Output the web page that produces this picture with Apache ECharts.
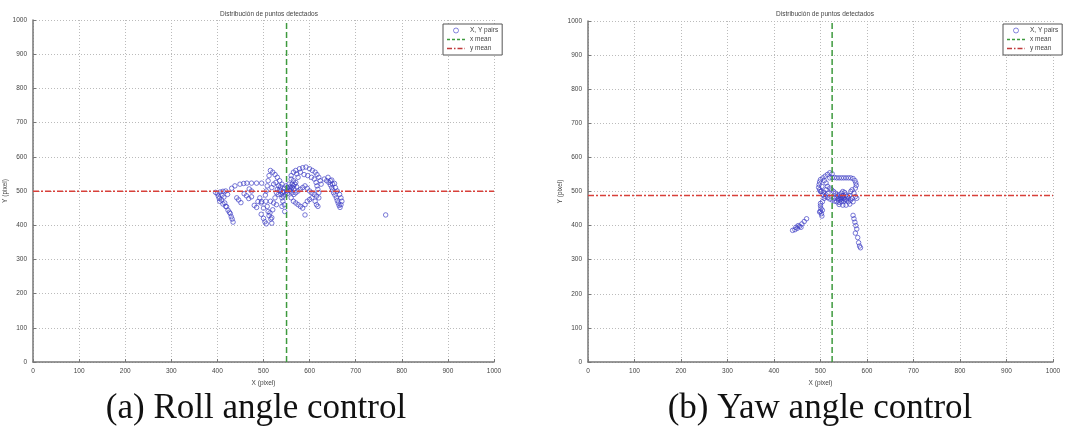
<!DOCTYPE html>
<html>
<head>
<meta charset="utf-8">
<script src="https://cdn.jsdelivr.net/npm/echarts@6/dist/echarts.min.js"></script>
<style>
  html, body { margin: 0; padding: 0; background: #fff; }
  #main { width: 1068px; height: 434px; }
</style>
</head>
<body>
<div id="main"></div>
<script>
// (a) roll angle control - detected points
const rollPoints = [
    [396, 496], [400, 492], [402, 485], [404, 478], [405, 470], [409, 474], [412, 462], [416, 465],
    [418, 455], [420, 454], [423, 444], [426, 438], [428, 434], [430, 425], [432, 418], [434, 409],
    [406, 497], [412, 499], [418, 500], [410, 488], [414, 482], [422, 490],
    [431, 508], [438, 515], [449, 520], [457, 522], [464, 523], [474, 523], [485, 523], [496, 523],
    [469, 506], [474, 500], [474, 483], [488, 469], [496, 469], [442, 480], [446, 474], [451, 466],
    [458, 492], [463, 486], [468, 478], [480, 458], [485, 452], [492, 480], [495, 465],
    [500, 450], [495, 432], [500, 420], [503, 410], [506, 404], [514, 436], [516, 418], [518, 406],
    [505, 470], [508, 455], [510, 440], [512, 428], [518, 422], [520, 445], [522, 465], [525, 480],
    [528, 495], [530, 505], [533, 515], [536, 500], [538, 490], [540, 480], [542, 470], [545, 460],
    [540, 520], [535, 530], [530, 540], [525, 548], [520, 555], [515, 560], [512, 545], [510, 530],
    [508, 515], [506, 500], [504, 488], [518, 510], [522, 520], [527, 525], [532, 490], [548, 490],
    [550, 500], [552, 510], [555, 520], [546, 440], [540, 455], [528, 460], [515, 470], [535, 505],
    [544, 498], [546, 508], [541, 496], [537, 512], [552, 492], [556, 503], [549, 515], [543, 485],
    [558, 500], [560, 505], [562, 510], [565, 515], [568, 520], [570, 525], [565, 530], [560, 535],
    [562, 495], [566, 490], [570, 495], [575, 500], [580, 505], [585, 510], [590, 515], [595, 508],
    [600, 500], [605, 495], [610, 490], [615, 485], [620, 480], [560, 480], [565, 470], [570, 465],
    [575, 460], [580, 455], [585, 450], [590, 460], [595, 470], [600, 475], [605, 480], [612, 470],
    [615, 460], [618, 455], [590, 430], [562, 520], [558, 512], [566, 506], [572, 512],
    [560, 545], [565, 555], [570, 560], [578, 565], [585, 568], [592, 570], [600, 565], [606, 560],
    [612, 555], [616, 548], [620, 540], [623, 530], [625, 520], [580, 555], [588, 548], [596, 545],
    [604, 540], [610, 535], [614, 525], [616, 515], [618, 505], [620, 495], [575, 540], [572, 550],
    [632, 535], [637, 530], [642, 525], [645, 518], [648, 510], [650, 503], [652, 495], [655, 488],
    [658, 480], [660, 472], [662, 465], [664, 458], [666, 452], [668, 460], [670, 470], [668, 480],
    [665, 490], [660, 500], [656, 510], [650, 520], [645, 530], [640, 540], [648, 532], [654, 522],
    [765, 430]
];
const rollXMean = 550;
const rollYMean = 499;

// (b) yaw angle control - detected points
const yawPoints = [
    [520, 540], [525, 541], [530, 541], [535, 540], [540, 540], [545, 540], [550, 540], [555, 540],
    [560, 540], [565, 540], [570, 538], [574, 532], [576, 525], [577, 518], [575, 510],
    [505, 540], [500, 535], [498, 528], [497, 520], [496, 512], [498, 505], [502, 500], [507, 498],
    [512, 505], [515, 515], [512, 525], [508, 532], [515, 550], [520, 555], [525, 552], [510, 545],
    [503, 515], [500, 500], [505, 490], [510, 485], [515, 482], [520, 478], [525, 475], [530, 480],
    [535, 485], [540, 490], [545, 495], [548, 500], [552, 497], [555, 490], [558, 485], [560, 480],
    [556, 475], [550, 472], [545, 470], [540, 468], [535, 470], [530, 472], [538, 478], [543, 482],
    [547, 486], [550, 480], [553, 476], [545, 478], [540, 484], [536, 490], [532, 495], [528, 500],
    [524, 505], [520, 510], [516, 495], [512, 490], [508, 480], [504, 470], [500, 465], [560, 470],
    [565, 475], [568, 480], [562, 488], [565, 500], [568, 505], [572, 495], [575, 485], [578, 480],
    [570, 470], [563, 463], [555, 460], [548, 460], [540, 462], [542, 476], [546, 482], [549, 488],
    [500, 458], [501, 450], [500, 442], [502, 435], [503, 428], [498, 440], [504, 445],
    [470, 420], [465, 412], [460, 405], [455, 398], [450, 392], [445, 388], [440, 386], [458, 395],
    [452, 400], [447, 395],
    [570, 430], [572, 420], [574, 410], [576, 400], [578, 390], [575, 378], [580, 365], [582, 350],
    [584, 340], [586, 335]
];
const yawXMean = 525;
const yawYMean = 488;

const legendNames = ['X, Y pairs', 'x mean', 'y mean'];
const smallFont = { fontFamily: 'Liberation Sans', fontSize: 6.5, color: '#444' };

const dashIcon = 'path://M0,0h3v1.5h-3z M5,0h3v1.5h-3z M10,0h3v1.5h-3z M15,0h3v1.5h-3z';
const dashDotIcon = 'path://M0,0h5v1.5h-5z M7,0h1.5v1.5h-1.5z M10.5,0h5v1.5h-5z M17.5,0h0.5v1.5h-0.5z';

function axisPair(i) {
    const common = {
        gridIndex: i,
        min: 0, max: 1000, interval: 100,
        axisLine: { show: true, lineStyle: { color: '#777', width: 1.5 } },
        axisTick: { show: true, inside: true, length: 3, lineStyle: { color: '#777' } },
        axisLabel: Object.assign({ margin: 6, formatter: v => String(v) }, smallFont),
        splitLine: { show: true, lineStyle: { color: '#bbb', type: [1, 2], width: 1 } },
        nameTextStyle: smallFont
    };
    return {
        x: Object.assign({}, common, {
            type: 'value', name: 'X (pixel)', nameLocation: 'middle', nameGap: 14
        }),
        y: Object.assign({}, common, {
            type: 'value', name: 'Y (pixel)', nameLocation: 'middle', nameGap: 16
        })
    };
}

function panelSeries(i, pts, xm, ym) {
    return [
        {
            name: 'X, Y pairs', type: 'scatter', xAxisIndex: i, yAxisIndex: i,
            data: pts, symbol: 'circle', symbolSize: 4.5,
            itemStyle: { color: 'rgba(0,0,0,0)', borderColor: '#3c3cc4', borderWidth: 0.85 }
        },
        {
            name: 'x mean', type: 'line', xAxisIndex: i, yAxisIndex: i,
            data: [[xm, 0], [xm, 1000]], symbol: 'none',
            itemStyle: { color: '#3d9a3d' },
            lineStyle: { color: '#3d9a3d', width: 1.5, type: [6, 3] }
        },
        {
            name: 'y mean', type: 'line', xAxisIndex: i, yAxisIndex: i,
            data: [[0, ym], [1000, ym]], symbol: 'none',
            itemStyle: { color: '#d8403a' },
            lineStyle: { color: '#d8403a', width: 1.5, type: [6, 2, 2, 2] }
        }
    ];
}

function legendBox(left) {
    return {
        data: [
            { name: legendNames[0], icon: 'circle',
              itemStyle: { color: 'rgba(0,0,0,0)', borderColor: '#4040c8', borderWidth: 0.8 } },
            { name: legendNames[1], icon: dashIcon,
              itemStyle: { color: '#3d9a3d', borderWidth: 0 } },
            { name: legendNames[2], icon: dashDotIcon,
              itemStyle: { color: '#c0393a', borderWidth: 0 } }
        ],
        orient: 'vertical', left: left, top: 24,
        backgroundColor: '#fff', borderColor: '#555', borderWidth: 1, borderRadius: 0,
        padding: [3, 4, 3, 4], itemGap: 2, itemWidth: 18, itemHeight: 5,
        textStyle: smallFont, selectedMode: false
    };
}

const a0 = axisPair(0);
const a1 = axisPair(1);

const chart = echarts.init(document.getElementById('main'));
chart.setOption({
    animation: false,
    backgroundColor: '#fff',
    title: [
        { text: 'Distribución de puntos detectados', left: 264, top: 6, textAlign: 'center',
          textStyle: Object.assign({}, smallFont, { fontWeight: 'normal' }) },
        { text: 'Distribución de puntos detectados', left: 820, top: 6, textAlign: 'center',
          textStyle: Object.assign({}, smallFont, { fontWeight: 'normal' }) },
        { text: '(a) Roll angle control', left: 251, top: 386, textAlign: 'center',
          textStyle: { fontFamily: 'Liberation Serif', fontSize: 35, fontWeight: 'normal', color: '#111' } },
        { text: '(b) Yaw angle control', left: 815, top: 386, textAlign: 'center',
          textStyle: { fontFamily: 'Liberation Serif', fontSize: 35, fontWeight: 'normal', color: '#111' } }
    ],
    legend: [legendBox(443), legendBox(1003)],
    grid: [
        { left: 33, top: 20, width: 461, height: 342 },
        { left: 588, top: 21, width: 465, height: 341 }
    ],
    xAxis: [a0.x, a1.x],
    yAxis: [a0.y, a1.y],
    series: panelSeries(0, rollPoints, rollXMean, rollYMean)
        .concat(panelSeries(1, yawPoints, yawXMean, yawYMean))
});

window.addEventListener('resize', () => chart.resize());
</script>
</body>
</html>
